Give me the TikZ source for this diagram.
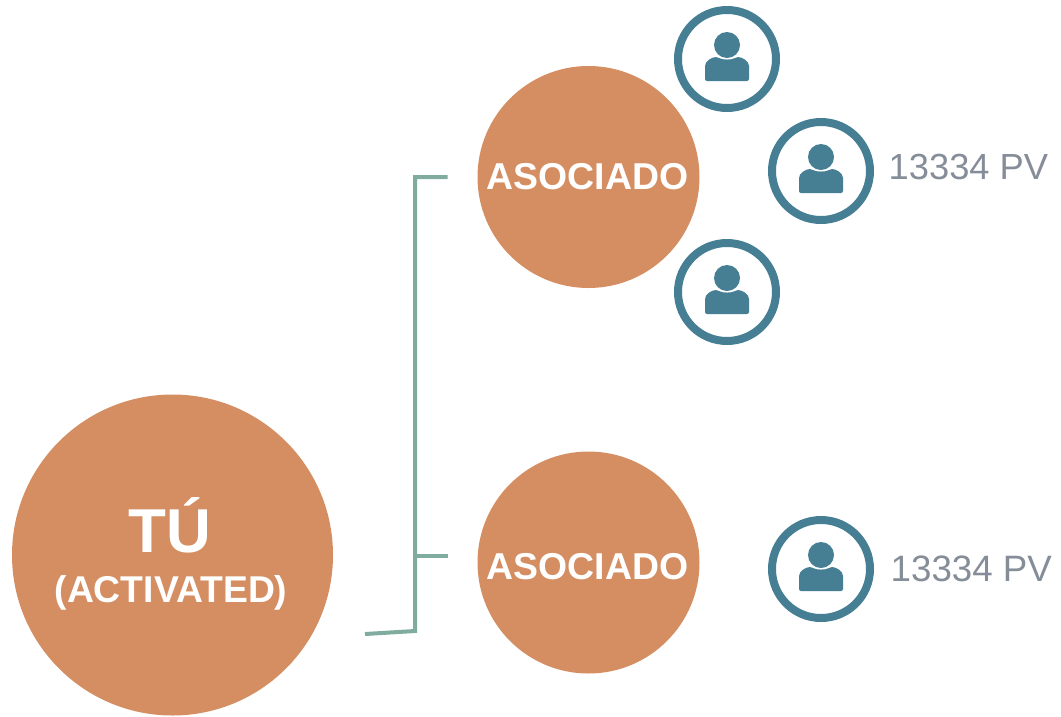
\documentclass[tikz,border=0pt]{standalone}
\usepackage{fontspec}
\setmainfont{Liberation Sans}
\definecolor{orangec}{HTML}{D48E62}
\definecolor{tealc}{HTML}{467F94}
\definecolor{linec}{HTML}{7FAC9F}
\definecolor{grayc}{HTML}{858D98}
\tikzset{
  bigdisc/.style={circle,fill=orangec,minimum size=321pt,inner sep=0pt},
  disc/.style={circle,fill=orangec,minimum size=222pt,inner sep=0pt},
  disclabel/.style={text=white,inner sep=0pt,font=\bfseries\fontsize{37.4}{37.4}\selectfont},
  ring/.style={circle,draw=tealc,line width=8pt,fill=white,minimum size=98pt,inner sep=0pt},
  pv/.style={anchor=west,text=grayc,inner sep=0pt},
  wire/.style={draw=linec,line width=4pt}
}
\usetikzlibrary{calc}
\newcommand{\personicon}[1]{%
  \fill[tealc] ($(#1)+(0,-14)$) circle[radius=13];
  \fill[tealc,rounded corners=2pt] ($(#1)+(-22,22)$) -- ($(#1)+(-22,9)$)
    .. controls ($(#1)+(-22,2)$) and ($(#1)+(-15,-2)$) .. ($(#1)+(-9,-2)$)
    .. controls ($(#1)+(-5,1)$) and ($(#1)+(5,1)$) .. ($(#1)+(9,-2)$)
    .. controls ($(#1)+(15,-2)$) and ($(#1)+(22,2)$) .. ($(#1)+(22,9)$)
    -- ($(#1)+(22,22)$) -- cycle;
}
\begin{document}
\begin{tikzpicture}[x=1pt,y=-1pt]
\useasboundingbox (0,0) rectangle (1061,716);
\node[bigdisc] (tu) at (172.5,555) {};
\node[text=white,font=\bfseries\fontsize{62}{62}\selectfont,inner sep=0pt] (tutext) at (170,525) {TÚ};
\node[text=white,font=\bfseries\fontsize{37.3}{37.3}\selectfont,inner sep=0pt] (acttext) at (171,593) {(ACTIVATED)};
\node[disc] (a1) at (588.5,177) {};
\node[disc] (a2) at (588.5,562.5) {};
\node[disclabel] (l1) at (587.5,177) {ASOCIADO};
\node[disclabel] (l2) at (587.5,566.5) {ASOCIADO};
\node[ring] (r1) at (727,59) {};
\node[ring] (r2) at (821,171) {};
\node[ring] (r3) at (727,292) {};
\node[ring] (r4) at (821,569) {};
\personicon{r1}
\personicon{r2}
\personicon{r3}
\personicon{r4}
\node[pv,font=\fontsize{36.3}{36.3}\selectfont] (p1) at (888.5,167) {13334 PV};
\node[pv,font=\fontsize{36.7}{36.7}\selectfont] (p2) at (890.5,569) {13334 PV};
\coordinate (start) at (365,634);
\coordinate (bend) at (415,631);
\coordinate (top) at (415,177);
\coordinate (end1) at (447.5,177);
\coordinate (mid) at (415,556);
\coordinate (end2) at (447.5,556);
\draw[wire,line join=miter] (start) -- (bend) -- (top) -- (end1);
\draw[wire] (mid) -- (end2);
\end{tikzpicture}
\end{document}
